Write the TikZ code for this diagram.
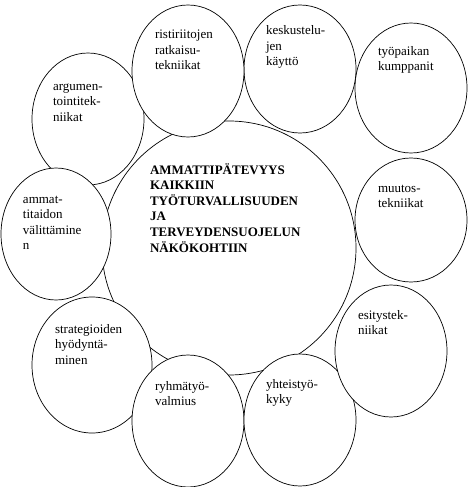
\documentclass[tikz,border=0pt]{standalone}
\usepackage{fontspec}
\setmainfont{Liberation Serif}
\usetikzlibrary{shapes.geometric}
\begin{document}
\begin{tikzpicture}[x=1pt,y=-1pt,
  bubble/.style={ellipse, draw, fill=white, line width=0.7pt, inner sep=0pt, outer sep=0pt, minimum width=112pt, minimum height=132pt},
  bigcircle/.style={circle, draw, line width=0.7pt, inner sep=0pt, outer sep=0pt, minimum size=254pt},
  txt/.style={anchor=north west, inner sep=0pt, outer sep=0pt, align=left, font=\fontsize{13}{15.5}\selectfont},
  boldtxt/.style={txt, font=\fontsize{13}{15.6}\selectfont\bfseries}
]
\useasboundingbox (0,0) rectangle (468,487);
\node[bigcircle] (main) at (229,248) {};
\node[bubble] (argu) at (88,119) {};
\node[bubble, minimum width=110pt] (ammat) at (56,234) {};
\node[bubble, minimum width=120pt, minimum height=136pt] (strat) at (92,365) {};
\node[bubble] (ryhma) at (188,421) {};
\node[bubble] (yhteis) at (300,420) {};
\node[bubble] (esitys) at (391,351) {};
\node[bubble, minimum height=124pt] (muutos) at (411,220) {};
\node[bubble, minimum height=130pt] (tyop) at (411,88) {};
\node[bubble, minimum height=128pt] (keskus) at (300,69) {};
\node[bubble] (risti) at (188,71) {};

\node[boldtxt] (maintxt) at (150,162) {\rule{0pt}{12pt}AMMATTIPÄTEVYYS\\KAIKKIIN\\TYÖTURVALLISUUDEN\\JA\\TERVEYDENSUOJELUN\\NÄKÖKOHTIIN};
\node[txt] (t-risti) at (155,27) {\rule{0pt}{12pt}ristiriitojen\\ratkaisu-\\tekniikat};
\node[txt] (t-keskus) at (266,23) {\rule{0pt}{12pt}keskustelu-\\jen\\käyttö};
\node[txt] (t-tyop) at (378,43) {\rule{0pt}{12pt}työpaikan\\kumppanit};
\node[txt] (t-muutos) at (378,180) {\rule{0pt}{12pt}muutos-\\tekniikat};
\node[txt] (t-esitys) at (358,307) {\rule{0pt}{12pt}esitystek-\\niikat};
\node[txt] (t-yhteis) at (266,376) {\rule{0pt}{12pt}yhteistyö-\\kyky};
\node[txt] (t-ryhma) at (155,378) {\rule{0pt}{12pt}ryhmätyö-\\valmius};
\node[txt] (t-strat) at (55,321) {\rule{0pt}{12pt}strategioiden\\hyödyntä-\\minen};
\node[txt] (t-ammat) at (23,191) {\rule{0pt}{12pt}ammat-\\titaidon\\välittämine\\n};
\node[txt] (t-argu) at (53,78) {\rule{0pt}{12pt}argumen-\\tointitek-\\niikat};
\end{tikzpicture}
\end{document}
